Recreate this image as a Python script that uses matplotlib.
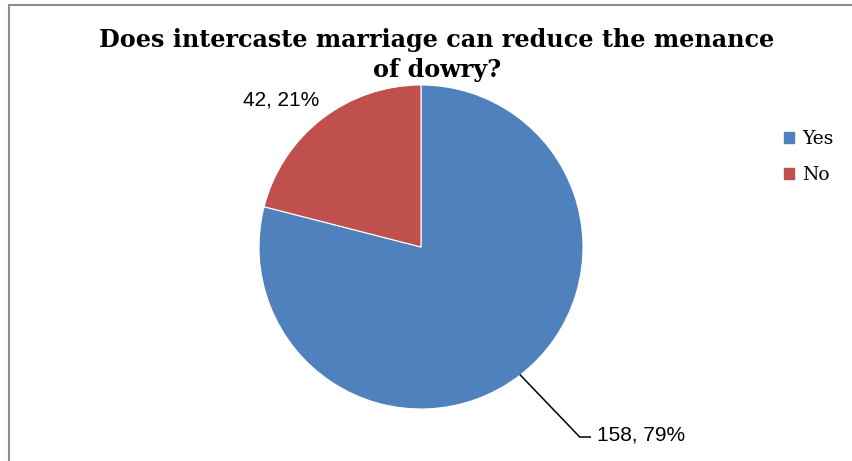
import numpy as np
import matplotlib.pyplot as plt
from matplotlib.lines import Line2D

labels = ['Yes', 'No']
counts = [158, 42]
percents = [79, 21]
colors = ['#4F81BD', '#C0504D']

title = 'Does intercaste marriage can reduce the menance\nof dowry?'

fig = plt.figure(figsize=(8.53, 4.61), dpi=100)

# pie area in pixels: centre (421, 247), radius 162
ax = fig.add_axes([259 / 853, 52 / 461, 324 / 853, 324 / 461])
wedges, _ = ax.pie(counts, colors=colors, startangle=90, counterclock=False,
                   radius=1, wedgeprops=dict(linewidth=0.8, edgecolor='white'))
ax.set_xlim(-1, 1)
ax.set_ylim(-1, 1)
ax.set_aspect('equal')
ax.axis('off')

# data labels
lab_font = dict(family='Liberation Sans', fontsize=15, color='black')

# No label, above-left of its wedge
ax.text(-0.865, 0.905, f'{counts[1]}, {percents[1]}%', ha='center', va='center',
        clip_on=False, **lab_font)

# Yes label with leader line
w = wedges[0]
mid = np.deg2rad((w.theta1 + w.theta2) / 2)
x0, y0 = np.cos(mid), np.sin(mid)
ax.plot([x0, 0.98, 1.045], [y0, -1.173, -1.173], color='black', lw=1.1,
        clip_on=False)
ax.text(1.085, -1.16, f'{counts[0]}, {percents[0]}%', ha='left', va='center',
        clip_on=False, **lab_font)

fig.text(0.512, 1 - 28 / 461, title, ha='center', va='top',
         family='DejaVu Serif', fontweight='bold', fontsize=17.2,
         linespacing=1.3)

handles = [plt.Rectangle((0, 0), 1, 1, color=c) for c in colors]
fig.legend(handles, labels, loc='upper left', bbox_to_anchor=(777 / 853, 1 - 123 / 461),
           frameon=False, prop=dict(family='DejaVu Serif', size=13.5),
           handlelength=0.5, handleheight=0.5, handletextpad=0.45,
           labelspacing=0.95, borderaxespad=0)

# chart frame (top and left edges visible)
fig.add_artist(Line2D([9 / 853, 1], [1 - 5 / 461, 1 - 5 / 461],
                      transform=fig.transFigure, color='#8c8c8c', lw=1.5))
fig.add_artist(Line2D([9 / 853, 9 / 853], [0, 1 - 5 / 461],
                      transform=fig.transFigure, color='#8c8c8c', lw=1.5))

fig.savefig('out.png', dpi=100)
